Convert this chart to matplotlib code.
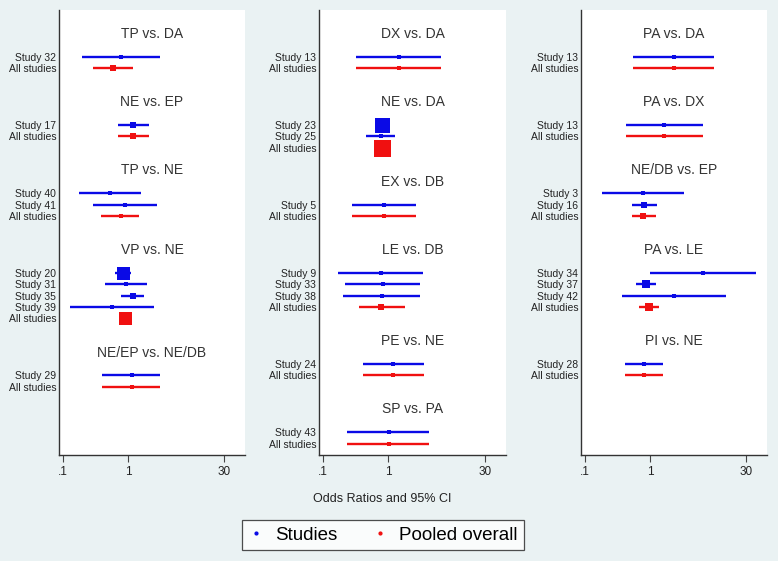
import matplotlib
matplotlib.use("Agg")
import matplotlib.pyplot as plt
from matplotlib.lines import Line2D

plt.rcParams['font.family'] = ['Liberation Sans', 'DejaVu Sans']

# ---- data: one list per panel, nested by comparison ----
p1_titles = ["TP vs. DA", "NE vs. EP", "TP vs. NE", "VP vs. NE", "NE/EP vs. NE/DB"]
p1_labels = [["Study 32"], ["Study 17"], ["Study 40", "Study 41"],
             ["Study 20", "Study 31", "Study 35", "Study 39"], ["Study 29"]]
p1_or = [[0.77, 0.58], [1.19, 1.19], [0.53, 0.90, 0.77], [0.84, 0.93, 1.18, 0.56, 0.91], [1.15, 1.15]]
p1_lo = [[0.196, 0.295], [0.71, 0.71], [0.174, 0.289, 0.383], [0.63, 0.45, 0.77, 0.127, 0.80], [0.405, 0.405]]
p1_hi = [[3.16, 1.18], [2.09, 2.09], [1.60, 2.84, 1.49], [1.10, 1.95, 1.75, 2.47, 1.05], [3.16, 3.16]]
p1_w = [[3.5, 5.5], [6.5, 6.5], [3.5, 3.5, 5], [13, 5, 6.5, 3.5, 13], [3.5, 3.5]]

p2_titles = ["DX vs. DA", "NE vs. DA", "EX vs. DB", "LE vs. DB", "PE vs. NE", "SP vs. PA"]
p2_labels = [["Study 13"], ["Study 23", "Study 25"], ["Study 5"],
             ["Study 9", "Study 33", "Study 38"], ["Study 24"], ["Study 43"]]
p2_or = [[1.47, 1.47], [0.80, 0.76, 0.80], [0.86, 0.86], [0.77, 0.83, 0.79, 0.76], [1.19, 1.19], [1.01, 1.01]]
p2_lo = [[0.324, 0.324], [0.70, 0.46, 0.70], [0.28, 0.28], [0.168, 0.215, 0.206, 0.36], [0.405, 0.405], [0.237, 0.237]]
p2_hi = [[6.38, 6.38], [0.92, 1.28, 0.92], [2.68, 2.68], [3.39, 3.04, 3.04, 1.80], [3.55, 3.55], [4.18, 4.18]]
p2_w = [[3.5, 3.5], [15, 5, 17], [3.5, 3.5], [3.5, 3.5, 3.5, 5.5], [3.5, 3.5], [3.5, 3.5]]

p3_titles = ["PA vs. DA", "PA vs. DX", "NE/DB vs. EP", "PA vs. LE", "PI vs. NE"]
p3_labels = [["Study 13"], ["Study 13"], ["Study 3", "Study 16"],
             ["Study 34", "Study 37", "Study 42"], ["Study 28"]]
p3_or = [[2.38, 2.38], [1.64, 1.64], [0.78, 0.81, 0.79], [6.5, 0.86, 2.38, 0.95], [0.80, 0.80]]
p3_lo = [[0.556, 0.556], [0.43, 0.43], [0.185, 0.525, 0.525], [1.01, 0.60, 0.378, 0.69], [0.41, 0.41]]
p3_hi = [[9.7, 9.7], [6.5, 6.5], [3.3, 1.28, 1.25], [42.6, 1.24, 15.0, 1.36], [1.56, 1.56]]
p3_w = [[3.5, 3.5], [3.5, 3.5], [3.5, 6.5, 6.5], [3.5, 8.5, 3.5, 7.5], [5, 5]]

xticks = [0.1, 1, 30]
xticklabels = [".1", "1", "30"]

BG = "#eaf2f3"
BLUE = "#0a0ae6"
RED = "#f01010"
W, H = 778, 561

fig = plt.figure(figsize=(W / 100, H / 100), dpi=100, facecolor=BG)


def panel(x0, x1, titles, labels, ors, los, his, ws):
    ax = fig.add_axes([x0 / W, 1 - 455 / H, (x1 - x0) / W, 445 / H])
    ax.set_facecolor("white")
    ax.set_xscale("log")
    ax.set_xlim(0.087, 63)
    ax.set_ylim(39, -0.1)
    ytick_pos, ytick_lab = [], []
    y = 2
    for t, labs, o, lo, hi, w in zip(titles, labels, ors, los, his, ws):
        ax.text(0.5, y, t, transform=ax.get_yaxis_transform(), ha="center",
                va="center", fontsize=10, color="#333333")
        rows = labs + ["All studies"]
        for i, lab in enumerate(rows):
            yy = y + 2 + i
            col = RED if lab == "All studies" else BLUE
            ax.plot([lo[i], hi[i]], [yy, yy], color=col, lw=1.7, solid_capstyle="butt")
            ax.plot(o[i], yy, marker="s", color=col, ms=w[i] * 0.72, mew=0)
            ytick_pos.append(yy)
            ytick_lab.append(lab)
        y = y + 2 + len(rows) - 1 + 3
    ax.set_yticks(ytick_pos)
    ax.set_yticklabels(ytick_lab, fontsize=7.5, color="#222222")
    ax.tick_params(axis="y", length=0, pad=2)
    ax.set_xticks(xticks)
    ax.set_xticklabels(xticklabels, fontsize=8.5, color="#222222")
    ax.xaxis.set_minor_locator(plt.NullLocator())
    ax.tick_params(axis="x", length=5, width=0.8, color="#444444", pad=3)
    for s in ["top", "right"]:
        ax.spines[s].set_visible(False)
    for s in ["left", "bottom"]:
        ax.spines[s].set_color("#333333")
        ax.spines[s].set_linewidth(1.0)
    return ax


panel(59, 245, p1_titles, p1_labels, p1_or, p1_lo, p1_hi, p1_w)
panel(319, 506, p2_titles, p2_labels, p2_or, p2_lo, p2_hi, p2_w)
panel(581, 767, p3_titles, p3_labels, p3_or, p3_lo, p3_hi, p3_w)

fig.text(382 / W, 1 - 499 / H, "Odds Ratios and 95% CI", ha="center", va="center",
         fontsize=9, color="#222222")

handles = [Line2D([], [], ls="none", marker="o", ms=2, color=BLUE),
           Line2D([], [], ls="none", marker="o", ms=2, color=RED)]
leg = fig.legend(handles, ["Studies", "Pooled overall"], loc="center",
                 bbox_to_anchor=(383 / W, 1 - 535 / H), ncol=2, fontsize=13.5,
                 frameon=True, fancybox=False, edgecolor="#222222",
                 handlelength=0.8, handletextpad=0.6, columnspacing=1.9,
                 borderpad=0.35)
leg.get_frame().set_linewidth(0.9)

fig.savefig("out.png", dpi=100, facecolor=BG)
